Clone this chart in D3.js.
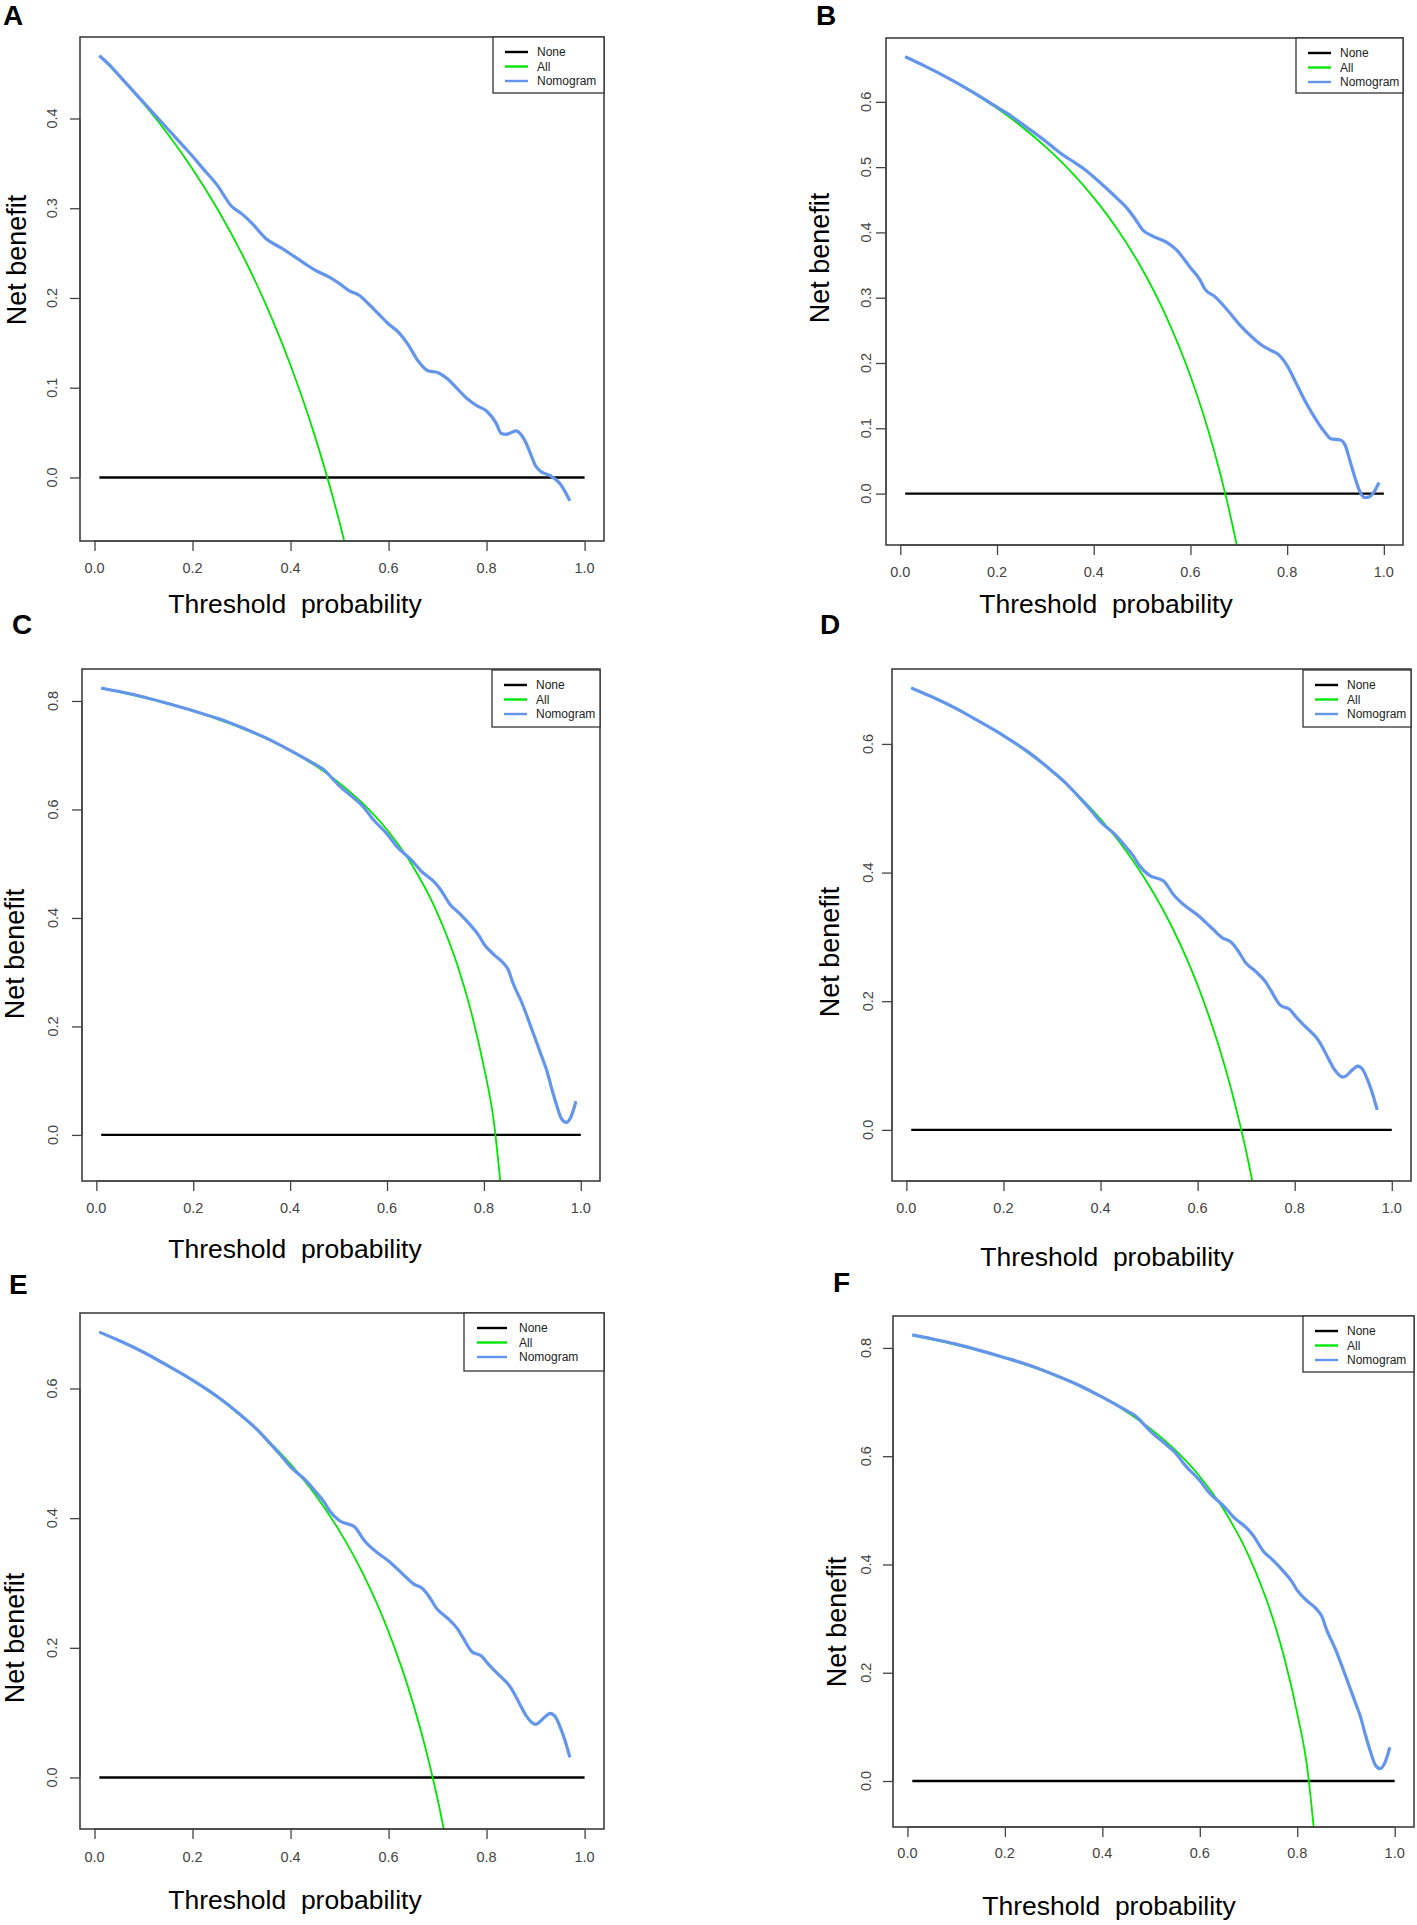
<!DOCTYPE html>
<html><head><meta charset="utf-8">
<script src="https://cdn.jsdelivr.net/npm/d3@7/dist/d3.min.js"></script>
<style>
body{margin:0;background:#fff}
svg{display:block}
text{font-family:Arial,"Liberation Sans",sans-serif}
</style></head>
<body>
<svg id="chart" width="1417" height="1925"></svg>
<script>
// ---------- data ----------
const noneThresholds = [0.01, 1.0];
const xTickValues = [0, 0.2, 0.4, 0.6, 0.8, 1.0];
const yTicksA = [0, 0.1, 0.2, 0.3, 0.4];
const yTicksB = [0, 0.1, 0.2, 0.3, 0.4, 0.5, 0.6];
const yTicksC = [0, 0.2, 0.4, 0.6, 0.8];
const yTicksD = [0, 0.2, 0.4, 0.6];
const yMin = -0.05;
const legendLabels = ["None", "All", "Nomogram"];
const xLabel = "Threshold  probability";
const yLabel = "Net benefit";

const allA = [[0.01,0.4697],[0.05,0.4474],[0.1,0.4167],[0.15,0.3824],[0.2,0.3438],[0.25,0.300],[0.3,0.250],[0.35,0.1923],[0.4,0.125],[0.45,0.0455],[0.5,-0.050],[0.55,-0.1667]];
const nomoA = [[0.01,0.470],[0.03,0.460],[0.05,0.448],[0.08,0.430],[0.1,0.418],[0.13,0.400],[0.15,0.388],[0.18,0.370],[0.2,0.358],[0.22,0.345],[0.25,0.326],[0.28,0.302],[0.3,0.294],[0.32,0.284],[0.35,0.266],[0.38,0.256],[0.4,0.249],[0.43,0.238],[0.45,0.231],[0.48,0.223],[0.5,0.216],[0.52,0.208],[0.54,0.203],[0.56,0.193],[0.58,0.182],[0.6,0.171],[0.62,0.162],[0.64,0.148],[0.66,0.130],[0.68,0.119],[0.7,0.117],[0.72,0.110],[0.74,0.099],[0.76,0.088],[0.78,0.080],[0.8,0.074],[0.82,0.060],[0.83,0.049],[0.84,0.048],[0.86,0.052],[0.87,0.048],[0.88,0.039],[0.89,0.026],[0.9,0.013],[0.91,0.007],[0.93,0.002],[0.95,-0.007],[0.97,-0.026]];

const allB = [[0.01,0.6687],[0.05,0.6547],[0.1,0.6356],[0.15,0.6141],[0.2,0.590],[0.25,0.5627],[0.3,0.5314],[0.35,0.4954],[0.4,0.4533],[0.45,0.4036],[0.5,0.344],[0.55,0.2711],[0.6,0.180],[0.625,0.1253],[0.65,0.0629],[0.675,-0.0092],[0.7,-0.0933]];
const nomoB = [[0.01,0.669],[0.05,0.655],[0.1,0.636],[0.15,0.615],[0.2,0.592],[0.23,0.578],[0.25,0.567],[0.3,0.540],[0.33,0.522],[0.35,0.512],[0.38,0.497],[0.4,0.485],[0.43,0.465],[0.45,0.451],[0.47,0.436],[0.49,0.416],[0.5,0.405],[0.52,0.395],[0.55,0.385],[0.57,0.374],[0.6,0.346],[0.62,0.327],[0.63,0.313],[0.65,0.302],[0.68,0.278],[0.7,0.260],[0.73,0.238],[0.75,0.226],[0.77,0.218],[0.78,0.214],[0.8,0.196],[0.82,0.167],[0.84,0.138],[0.86,0.113],[0.88,0.092],[0.89,0.084],[0.91,0.082],[0.92,0.074],[0.93,0.050],[0.94,0.025],[0.95,0.004],[0.96,-0.006],[0.97,-0.005],[0.98,0.003],[0.99,0.017]];

const allC = [[0.01,0.8232],[0.05,0.8158],[0.1,0.8056],[0.15,0.7941],[0.2,0.7813],[0.25,0.7667],[0.3,0.750],[0.35,0.7308],[0.4,0.7083],[0.45,0.6818],[0.5,0.650],[0.55,0.6111],[0.6,0.5625],[0.65,0.500],[0.7,0.4167],[0.75,0.300],[0.775,0.2222],[0.8,0.125],[0.82,0.0278],[0.84,-0.1438]];
const nomoC = [[0.01,0.824],[0.05,0.817],[0.1,0.807],[0.15,0.795],[0.2,0.782],[0.25,0.768],[0.3,0.751],[0.35,0.732],[0.4,0.709],[0.45,0.684],[0.47,0.673],[0.48,0.664],[0.5,0.645],[0.53,0.622],[0.55,0.606],[0.57,0.583],[0.6,0.555],[0.62,0.532],[0.65,0.507],[0.67,0.487],[0.7,0.464],[0.71,0.453],[0.73,0.425],[0.75,0.408],[0.77,0.389],[0.79,0.367],[0.8,0.352],[0.82,0.333],[0.84,0.317],[0.85,0.305],[0.86,0.280],[0.88,0.240],[0.9,0.192],[0.92,0.143],[0.93,0.118],[0.94,0.085],[0.95,0.055],[0.96,0.030],[0.97,0.023],[0.98,0.034],[0.99,0.062]];

const allD = [[0.01,0.6869],[0.05,0.6737],[0.1,0.6556],[0.15,0.6353],[0.2,0.6125],[0.25,0.5867],[0.3,0.5571],[0.35,0.5231],[0.4,0.4833],[0.45,0.4364],[0.5,0.380],[0.55,0.3111],[0.6,0.225],[0.65,0.1143],[0.675,0.0462],[0.7,-0.0333],[0.725,-0.1273]];
const nomoD = [[0.01,0.687],[0.05,0.674],[0.1,0.656],[0.15,0.635],[0.2,0.613],[0.25,0.588],[0.3,0.558],[0.33,0.538],[0.35,0.522],[0.38,0.497],[0.4,0.479],[0.43,0.459],[0.45,0.442],[0.47,0.423],[0.48,0.411],[0.5,0.396],[0.53,0.387],[0.55,0.366],[0.57,0.351],[0.6,0.334],[0.63,0.313],[0.65,0.299],[0.67,0.291],[0.68,0.282],[0.7,0.259],[0.72,0.246],[0.74,0.230],[0.75,0.218],[0.77,0.194],[0.79,0.187],[0.8,0.178],[0.82,0.162],[0.85,0.138],[0.87,0.110],[0.88,0.096],[0.9,0.082],[0.92,0.094],[0.93,0.099],[0.94,0.094],[0.95,0.078],[0.96,0.057],[0.97,0.031]];

// ---------- layout ----------
const panels = [
  {id:"A", all:allA, nomo:nomoA, yt:yTicksA, box:[80,37,604,541], letter:[3,25], ylab:[17,260], xlab:[295,604], xtl:568, ytl:52, leg:[493,37,604,93], wide:false},
  {id:"B", all:allB, nomo:nomoB, yt:yTicksB, box:[886,38,1403,545], letter:[816,25], ylab:[820,258], xlab:[1106,604], xtl:572, ytl:866, leg:[1296,38,1403,93], wide:false},
  {id:"C", all:allC, nomo:nomoC, yt:yTicksC, box:[82,669,600,1181], letter:[12,634], ylab:[15,954], xlab:[295,1249], xtl:1208, ytl:53, leg:[492,670,600,727], wide:false},
  {id:"D", all:allD, nomo:nomoD, yt:yTicksD, box:[892,669,1411,1181], letter:[820,634], ylab:[830,952], xlab:[1107,1257], xtl:1208, ytl:868, leg:[1303,670,1411,727], wide:false},
  {id:"E", all:allD, nomo:nomoD, yt:yTicksD, box:[80,1313,604,1829], letter:[9,1294], ylab:[15,1638], xlab:[295,1900], xtl:1857, ytl:52, leg:[464,1313,604,1371], wide:true},
  {id:"F", all:allC, nomo:nomoC, yt:yTicksC, box:[893,1316,1414,1827], letter:[833,1292], ylab:[837,1622], xlab:[1109,1906], xtl:1853, ytl:866, leg:[1303,1316,1414,1372], wide:false}
];

const colNone = "#000000", colAll = "#00e600", colNomo = "#6495ED";
const svg = d3.select("#chart");

function expand(lo, hi){ const d=(hi-lo)*0.04; return [lo-d, hi+d]; }

panels.forEach((p,i)=>{
  const [x0,y0,x1,y1] = p.box;
  const xs = d3.scaleLinear().domain(expand(noneThresholds[0], noneThresholds[1])).range([x0,x1]);
  const yMax = p.nomo[0][1];
  const ys = d3.scaleLinear().domain(expand(yMin, yMax)).range([y1,y0]);
  const g = svg.append("g");

  const clipId = "clip"+i;
  svg.append("clipPath").attr("id",clipId).append("rect")
    .attr("x",x0).attr("y",y0).attr("width",x1-x0).attr("height",y1-y0);

  const line = d3.line().x(d=>xs(d[0])).y(d=>ys(d[1])).curve(d3.curveMonotoneX);
  const lg = g.append("g").attr("clip-path",`url(#${clipId})`);
  lg.append("path").datum(noneThresholds.map(t=>[t,0])).attr("d",d3.line().x(d=>xs(d[0])).y(d=>ys(d[1])))
    .attr("fill","none").attr("stroke",colNone).attr("stroke-width",2.4);
  lg.append("path").datum(p.all).attr("d",line)
    .attr("fill","none").attr("stroke",colAll).attr("stroke-width",1.8);
  lg.append("path").datum(p.nomo).attr("d",line)
    .attr("fill","none").attr("stroke",colNomo).attr("stroke-width",3.2).attr("stroke-linejoin","round");

  // box
  g.append("rect").attr("x",x0).attr("y",y0).attr("width",x1-x0).attr("height",y1-y0)
    .attr("fill","none").attr("stroke","#333").attr("stroke-width",1.5);

  // x axis ticks
  const xa = g.append("g").attr("transform",`translate(0,${y1})`)
    .call(d3.axisBottom(xs).tickValues(xTickValues).tickSize(10).tickFormat(""));
  xa.select(".domain").attr("d",`M${xs(0)},0H${xs(1)}`).attr("stroke","#444").attr("stroke-width",1.3);
  xa.selectAll(".tick line").attr("stroke","#444").attr("stroke-width",1.3);
  g.selectAll(null).data(xTickValues).enter().append("text")
    .attr("x",d=>xs(d)).attr("y",p.xtl).attr("dy","0.35em").attr("text-anchor","middle")
    .attr("font-size",14.5).attr("fill","#444").text(d3.format(".1f"));

  // y axis ticks
  const ya = g.append("g").attr("transform",`translate(${x0},0)`)
    .call(d3.axisLeft(ys).tickValues(p.yt).tickSize(10).tickFormat(""));
  ya.select(".domain").attr("d",`M0,${ys(p.yt[0])}V${ys(p.yt[p.yt.length-1])}`).attr("stroke","#444").attr("stroke-width",1.3);
  ya.selectAll(".tick line").attr("stroke","#444").attr("stroke-width",1.3);
  g.selectAll(null).data(p.yt).enter().append("text")
    .attr("transform",d=>`translate(${p.ytl},${ys(d)}) rotate(-90)`)
    .attr("dy","0.35em").attr("text-anchor","middle")
    .attr("font-size",14.5).attr("fill","#444").text(d3.format(".1f"));

  // axis titles
  g.append("text").attr("x",p.xlab[0]).attr("y",p.xlab[1]).attr("dy","0.35em")
    .attr("text-anchor","middle").attr("font-size",26.5).attr("fill","#000")
    .style("white-space","pre").text(xLabel);
  g.append("text").attr("transform",`translate(${p.ylab[0]},${p.ylab[1]}) rotate(-90)`)
    .attr("dy","0.35em").attr("text-anchor","middle").attr("font-size",27).attr("fill","#000").text(yLabel);

  // panel letter
  g.append("text").attr("x",p.letter[0]).attr("y",p.letter[1]).attr("font-size",28)
    .attr("font-weight","bold").attr("fill","#000").text(p.id);

  // legend
  const [lx0,ly0,lx1,ly1] = p.leg;
  g.append("rect").attr("x",lx0).attr("y",ly0).attr("width",lx1-lx0).attr("height",ly1-ly0)
    .attr("fill","#fff").attr("stroke","#333").attr("stroke-width",1.3);
  const cols = [colNone,colAll,colNomo];
  const la = p.wide ? 13 : 12, lb = p.wide ? 43 : 35, lt = p.wide ? 55 : 44;
  legendLabels.forEach((lab,k)=>{
    const yy = ly0 + 15 + k*14.5;
    g.append("line").attr("x1",lx0+la).attr("x2",lx0+lb).attr("y1",yy).attr("y2",yy)
      .attr("stroke",cols[k]).attr("stroke-width",2.4);
    g.append("text").attr("x",lx0+lt).attr("y",yy).attr("dy","0.35em").attr("font-size",12)
      .attr("fill","#222").text(lab);
  });
});
</script>
</body></html>
